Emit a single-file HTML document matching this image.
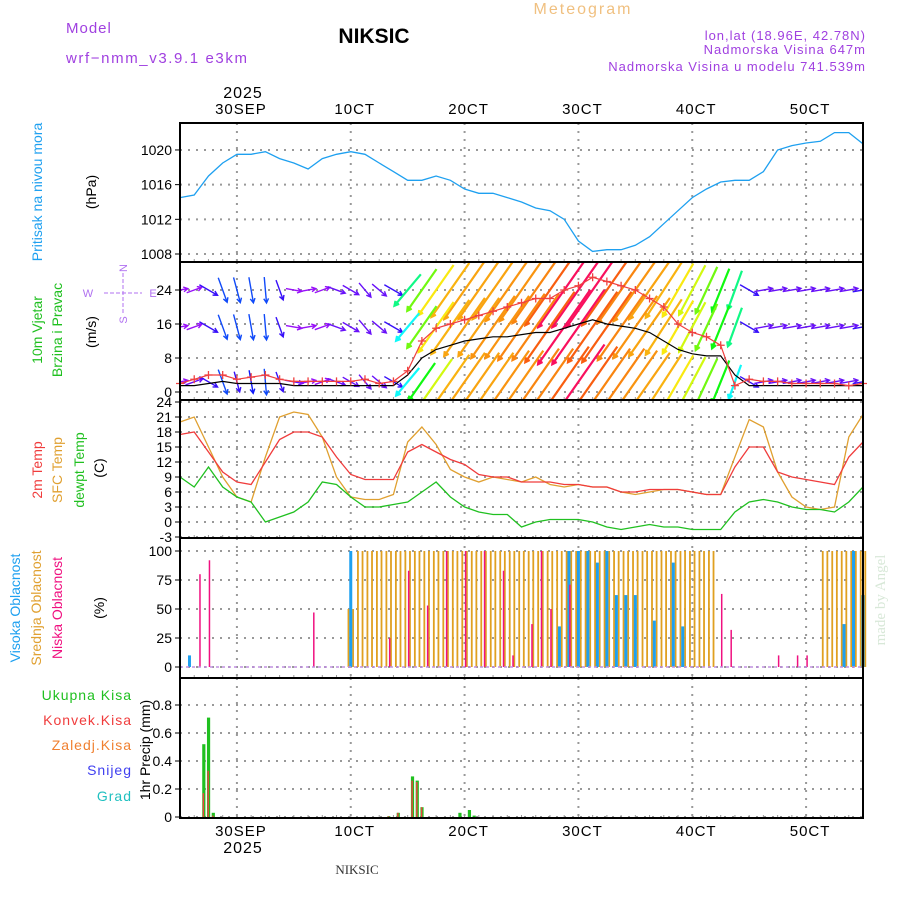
<!DOCTYPE html>
<html><head><meta charset="utf-8"><style>
body{margin:0;background:#fff;}
svg{display:block;font-family:"Liberation Sans",sans-serif;}
</style></head><body>
<svg id="chart" xmlns="http://www.w3.org/2000/svg" width="900" height="900" viewBox="0 0 900 900">
<rect x="0" y="0" width="900" height="900" fill="#fff"/>
<text x="66" y="33" font-size="15" fill="#a040e0" letter-spacing="1">Model</text>
<text x="66" y="63" font-size="15" fill="#a040e0" letter-spacing="1.6">wrf−nmm_v3.9.1 e3km</text>
<text x="374" y="43" font-size="21" font-weight="bold" text-anchor="middle" fill="#000">NIKSIC</text>
<text x="583" y="14" font-size="16" text-anchor="middle" fill="#f0c080" letter-spacing="2">Meteogram</text>
<text x="866" y="40" font-size="13" text-anchor="end" fill="#a040e0" letter-spacing="1">lon,lat (18.96E, 42.78N)</text>
<text x="866" y="54" font-size="13" text-anchor="end" fill="#a040e0" letter-spacing="1">Nadmorska Visina 647m</text>
<text x="866" y="71" font-size="13" text-anchor="end" fill="#a040e0" letter-spacing="1">Nadmorska Visina u modelu 741.539m</text>
<text x="357" y="874" font-size="13" font-family="Liberation Serif, serif" text-anchor="middle" fill="#333">NIKSIC</text>
<text transform="translate(885,600) rotate(-90)" font-size="15" font-family="Liberation Serif, serif" text-anchor="middle" fill="#d8e8d8">made by Angel</text>

<g font-size="14" text-anchor="middle">
<text transform="translate(42,192) rotate(-90)" fill="#1ea0f0">Pritisak na nivou mora</text>
<text transform="translate(96,192) rotate(-90)" fill="#000">(hPa)</text>
<text transform="translate(42,330) rotate(-90)" fill="#20c020">10m Vjetar</text>
<text transform="translate(62,330) rotate(-90)" fill="#20c020">Brzina i Pravac</text>
<text transform="translate(96,332) rotate(-90)" fill="#000">(m/s)</text>
<text transform="translate(42,470) rotate(-90)" fill="#f03c3c">2m Temp</text>
<text transform="translate(62,470) rotate(-90)" fill="#e0a030">SFC Temp</text>
<text transform="translate(84,470) rotate(-90)" fill="#20c020">dewpt Temp</text>
<text transform="translate(104,468) rotate(-90)" fill="#000">(C)</text>
<text transform="translate(20,608) rotate(-90)" fill="#1ea0f0">Visoka Oblacnost</text>
<text transform="translate(41,608) rotate(-90)" fill="#e0a030">Srednja Oblacnost</text>
<text transform="translate(62,608) rotate(-90)" fill="#f01080">Niska Oblacnost</text>
<text transform="translate(104,608) rotate(-90)" fill="#000">(%)</text>
<text transform="translate(150,750) rotate(-90)" fill="#000">1hr Precip (mm)</text>
</g>
<g font-size="14" text-anchor="end" letter-spacing="1">
<text x="132" y="700" fill="#20c020">Ukupna Kisa</text>
<text x="132" y="725" fill="#f03c3c">Konvek.Kisa</text>
<text x="132" y="750" fill="#f08030">Zaledj.Kisa</text>
<text x="132" y="775" fill="#4040f0">Snijeg</text>
<text x="132" y="801" fill="#20c0c0">Grad</text>
</g>
<g stroke="#b070f0" stroke-width="1" stroke-dasharray="4,2" fill="none">
<line x1="104" y1="293" x2="142" y2="293"/>
<line x1="123" y1="273" x2="123" y2="314"/>
</g>
<g font-size="11" fill="#b070f0" text-anchor="middle">
<text x="88" y="297">W</text>
<text x="153" y="297">E</text>
<text transform="translate(127,268) rotate(-90)">N</text>
<text transform="translate(127,320) rotate(-90)">S</text>
</g>
<defs><clipPath id="windClip"><rect x="180" y="262" width="683" height="138"/></clipPath></defs>
<g id="grid"></g>
<g id="series"></g>
<g id="frame"></g>
</svg>
<script>
// ---------- data ----------
const dayLabels = ["30SEP","1OCT","2OCT","3OCT","4OCT","5OCT"];
const topDayText = ["30SEP","10CT","20CT","30CT","40CT","50CT"];
const pressTicks = [1008,1012,1016,1020];
const windTicks = [0,8,16,24];
const tempTicks = [24,21,18,15,12,9,6,3,0,-3];
const cloudTicks = [0,25,50,75,100];
const precipTicks = [0,0.2,0.4,0.6,0.8];
// 3-hourly series (49 points)
const pressure = [1014.5,1014.8,1017,1018.5,1019.5,1019.5,1019.8,1019,1018.5,1017.8,1019,1019.5,1019.8,1019.5,1018.5,1017.5,1016.5,1016.5,1017,1016.5,1015.5,1015,1015,1014.5,1014,1013.3,1013,1012,1009.5,1008.3,1008.5,1008.5,1009,1010,1011.5,1013,1014.5,1015.5,1016.3,1016.5,1016.5,1017.5,1020,1020.5,1020.8,1021,1022,1022,1020.7];
const temp2m = [17.5,18,14,10,8,7.5,12,16.5,18,18,17,13,9.5,8.5,8.5,8.5,14,15.5,14,12.5,11.5,9.5,9,9,8,8,8,7.5,7.5,7,7,6,6,6.5,6.5,6.5,6,5.5,5.5,11,15,15,10,9,8.5,8,7.5,13,16];
const tempSfc = [20,21,15,9,5,4,13,21,22,21.5,17,9,5,4.5,4.5,5.5,16,19,15.5,10.5,9,8,9,8.5,8,9,7.5,7,7.5,7,7,6,5.5,6,6.5,6.5,6,5.5,5.5,13,20.5,19,10,5,3,2.5,3,17,21.5];
const dewpt = [9,7,11,7,5,4,0,1,2,4,8,7.5,5,3,3,3.5,4,6,8,5,3,2,1.5,1.5,-1,0,0.5,0.5,0.5,0,-1,-1.5,-1,-0.5,-1,-1,-1.5,-1.5,-1.5,2,4,4.5,4,3,2.5,2.5,2,4,7];
const windDir = [260,250,300,340,345,350,355,340,280,260,250,290,300,320,310,300,40,35,35,35,35,35,35,35,35,35,35,35,35,35,35,35,35,35,33,30,28,25,22,20,300,260,260,260,260,260,260,260,260];
const windRow1 = [2,2,3,4,4,4,4,3,2,2,2,2.5,2.5,2.5,2.5,3,7,9,11,12,13,13,13,14,14,15,16,17,17,17,16,15,14,13,12,11,10,9,8,7,3,2.5,2.5,2.5,2.5,2.5,2.5,2.5,3];
const windRow2 = [2,2,3,4,4,4,4,3,2,2,2,2.5,2.5,2.5,2.5,3,6,9,11,12,13,13,14,14,15,15,16,17,17,16,16,15,14,13,12,11,10,9,8,7,3,2.5,2.5,2.5,2.5,2.5,2.5,2.5,3];
const windRow3 = [2,2.5,3,4,3,3.5,4,3,2.5,2,2,2.5,2.5,2.5,2.5,3,6,8,10,12,13,13,13,14,14,15,15,16,17,16,15,15,14,13,12,11,10,9,8,6,3,2.5,2.5,2.5,2.5,2.5,2.5,2.5,3];
const windMean = [1.5,1.5,2,2.5,2,2,2,2,1.5,1.5,1.5,1.5,1.5,1.5,1.5,1.5,4,8,10,11,12,12.5,13,13,13.5,14,14,15,16,17,16,15.5,15,14,12,10,9,8.5,8.5,4,1.5,1.5,1.5,1.5,1.5,1.5,1.5,1.5,1.5];
const windGust = [2,3,4,4,3,3.5,4,3,2.5,2.5,2.5,2.5,2.5,3,2,2.5,5,12,15,16,17,18,19,20,21,22,22,24,25,27,26,25,24,22,20,16,14,13,11,1.5,3,2.5,2.5,2,2,2,2,1.5,2];
// 2-hourly cloud cover (73 points)
const cloudMid = [0,0,0,0,0,0,0,0,0,0,0,0,0,0,0,0,0,0,50,100,100,100,100,100,100,100,100,100,100,100,100,100,100,100,100,100,100,100,100,100,100,100,100,100,100,100,100,100,100,100,100,100,100,100,100,100,100,0,0,0,0,0,0,0,0,0,0,0,100,100,100,100,100];
const cloudHigh = [0,10,0,0,0,0,0,0,0,0,0,0,0,0,0,0,0,0,100,0,0,0,0,0,0,0,0,0,0,0,0,0,0,0,0,0,0,0,0,0,35,100,100,100,90,100,62,62,62,0,40,0,90,35,0,0,0,0,0,0,0,0,0,0,0,0,0,0,0,0,37,100,62];
const cloudLow = [0,0,80,92,0,0,0,0,0,0,0,0,0,0,47,0,0,0,0,0,0,0,25,0,83,0,53,0,100,0,100,0,100,0,83,10,0,37,100,50,0,71,0,0,0,0,0,0,0,0,0,0,0,0,0,0,0,63,32,0,0,0,0,10,0,10,10,0,0,0,0,0,0];
// hourly precipitation (sparse)
const precipHours = [5,6,7,44,46,49,50,51,59,61,62];
const precipTotal = [0.52,0.71,0.03,0.005,0.03,0.29,0.26,0.07,0.03,0.05,0.01];
const precipConv = [0.17,0.33,0.01,0.005,0.03,0.26,0.25,0.07,0,0,0];

// ---------- axes ----------
const X0=180, X1=863, PXH=(X1-X0)/144;
const xH = h => X0 + h*PXH;
const yP = p => 254 - (p-1008)*8.67;
const yW = v => 392 - v*4.25;
const yT = t => 522 - 5*t;
const yC = c => 667 - 1.16*c;
const yR = r => 817 - 140*r;
const NS='http://www.w3.org/2000/svg';
const grid=document.getElementById('grid'), series=document.getElementById('series'), frame=document.getElementById('frame');
function mk(tag, attrs, parent){const e=document.createElementNS(NS,tag);for(const k in attrs)e.setAttribute(k,attrs[k]);parent.appendChild(e);return e;}

const panels=[[123,262],[262,400],[400,538],[538,678],[678,818]];
dayLabels.forEach((d,i)=>{
  const x=xH(12+24*i);
  panels.forEach(p=>{
    const l=mk('line',{x1:x,y1:p[0],x2:x,y2:p[1],stroke:'#999','stroke-width':2,'stroke-dasharray':'2,6'},grid);
    
    
  });
  const t1=mk('text',{x:x+4,y:114,'font-size':15,'text-anchor':'middle','letter-spacing':1},frame);
  t1.textContent=topDayText[i];
  
  
  const t2=mk('text',{x:x+4,y:836,'font-size':15,'text-anchor':'middle','letter-spacing':1},frame);
  t2.textContent=topDayText[i];
  
  
});
const y1=mk('text',{x:243,y:98,'font-size':16,'text-anchor':'middle','letter-spacing':1},frame);
y1.textContent='2025';


const y2=mk('text',{x:243,y:853,'font-size':16,'text-anchor':'middle','letter-spacing':1},frame);
y2.textContent='2025';



function yAxis(ticks, fy, fmt, name){
  ticks.forEach(v=>{
    const y=fy(v);
    const g=mk('line',{x1:X0,y1:y,x2:X1,y2:y,stroke:'#999','stroke-width':2,'stroke-dasharray':'2,6'},grid);
    
    
    const tk=mk('line',{x1:X0-5,y1:y,x2:X0,y2:y,stroke:'#000','stroke-width':1},frame);
    
    
    const t=mk('text',{x:X0-8,y:y+5,'font-size':14,'text-anchor':'end'},frame);
    t.textContent=fmt(v);
    
    
  });
}
yAxis(pressTicks,yP,v=>v,'pressure');
yAxis(windTicks,yW,v=>v,'wind');
yAxis(tempTicks,yT,v=>v,'temp');
yAxis(cloudTicks,yC,v=>v,'cloud');
yAxis(precipTicks,yR,v=>v===0?'0':v.toFixed(1),'precip');

panels.forEach(p=>{
  for(let h=0;h<=144;h+=3){
    const m=mk('line',{x1:xH(h),y1:p[1]-3,x2:xH(h),y2:p[1],stroke:'#999','stroke-width':1},grid);
    
    
  }
});

const border=mk('rect',{x:X0,y:123,width:X1-X0,height:695,fill:'none',stroke:'#000','stroke-width':2},frame);


[262,400,538,678].forEach(y=>{
  const s=mk('line',{x1:X0,y1:y,x2:X1,y2:y,stroke:'#000','stroke-width':2},frame);
  
  
});

function line(arr, fy, color, name, w){
  const pts=arr.map((v,i)=>xH(i*3).toFixed(1)+','+fy(v).toFixed(1)).join(' ');
  const pl=mk('polyline',{points:pts,fill:'none',stroke:color,'stroke-width':w||1.3},series);
  
  
  return pl;
}
line(pressure,yP,'#1ea0f0','pressure-line');

// wind arrows
const windG=mk('g',{'clip-path':'url(#windClip)'},series);


function hue(s){
  const st=[[0,275],[2,275],[4,225],[6,180],[8,120],[10,70],[12,42],[15,30],[16.5,15],[17,-20],[20,-30]];
  for(let i=1;i<st.length;i++){if(s<=st[i][0]){const a=st[i-1],b=st[i];return a[1]+(b[1]-a[1])*(s-a[0])/(b[0]-a[0]);}}
  return -30;
}
[[windRow1,24],[windRow2,15.3],[windRow3,2.4]].forEach((rw,ri)=>{
  const arr=rw[0], yc=yW(rw[1]);
  arr.forEach((s,i)=>{
    const xc=xH(i*3), to=(windDir[i]+180)*Math.PI/180;
    const dx=Math.sin(to), dy=-Math.cos(to), L=5*s+6;
    const hx=xc+dx*L/2, hy=yc+dy*L/2, tx=xc-dx*L/2, ty=yc-dy*L/2;
    const col='hsl('+((hue(s)+360)%360)+',95%,52%)';
    const a1=Math.atan2(dy,dx)+Math.PI;
    const b1x=hx+5*Math.cos(a1+0.5), b1y=hy+5*Math.sin(a1+0.5), b2x=hx+5*Math.cos(a1-0.5), b2y=hy+5*Math.sin(a1-0.5);
    const p=mk('path',{d:`M${tx},${ty}L${hx},${hy}M${b1x},${b1y}L${hx},${hy}L${b2x},${b2y}`,stroke:col,'stroke-width':s>5?2.2:1.4,fill:'none'},windG);
    
    
  });
});
line(windMean,yW,'#000','wind-mean-line',1.2);
line(windGust,yW,'#f04040','wind-gust-line',1.2);
windGust.forEach((v,i)=>{
  const x=xH(i*3), y=yW(v);
  const c=mk('path',{d:`M${x-4},${y}H${x+4}M${x},${y-4}V${y+4}`,stroke:'#f04040','stroke-width':1.3},series);
  
  
});

line(tempSfc,yT,'#e0a030','sfc-temp-line');
line(temp2m,yT,'#f03c3c','temp-2m-line');
line(dewpt,yT,'#20c020','dewpt-line');

const step2=2*PXH;
cloudMid.forEach((v,j)=>{ if(v<=0) return;
  const x=X0+j*step2, y=yC(v);
  const p=mk('path',{d:`M${x-2.3},667V${y}M${x+2.3},667V${y}`,stroke:'#e0a020','stroke-width':1.8,fill:'none'},series);
  
  
});
cloudHigh.forEach((v,j)=>{ if(v<=0) return;
  const x=X0+j*step2, y=yC(v);
  const r=mk('rect',{x:x-1.5,y:y,width:3,height:667-y,fill:'#1ea0f0'},series);
  
  
});
cloudLow.forEach((v,j)=>{ if(v<=0) return;
  const x=X0+j*step2+1, y=yC(v);
  const r=mk('line',{x1:x,y1:667,x2:x,y2:y,stroke:'#f01080','stroke-width':1.5},series);
  
  
});
const base=mk('line',{x1:X0,y1:667,x2:X1,y2:667,stroke:'#c090e0','stroke-width':1.5,'stroke-dasharray':'3,3'},series);



precipHours.forEach((h,i)=>{
  const x=xH(h);
  const g=mk('rect',{x:x-1.5,y:yR(precipTotal[i]),width:3.2,height:817-yR(precipTotal[i]),fill:'#20c020'},series);
  
  
  if(precipConv[i]>0){
    const r=mk('rect',{x:x-1,y:yR(precipConv[i]),width:1.4,height:817-yR(precipConv[i]),fill:'#f04040'},series);
    
    
  }
});
</script>
</body></html>
